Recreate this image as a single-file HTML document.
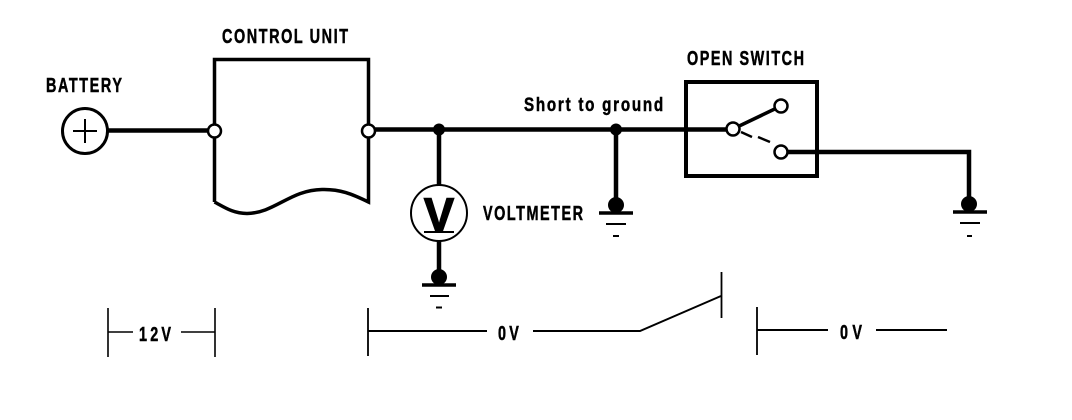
<!DOCTYPE html>
<html>
<head>
<meta charset="utf-8">
<style>
html,body{margin:0;padding:0;background:#fff;width:1072px;height:420px;overflow:hidden}
svg{display:block}
text{font-family:"Liberation Sans",sans-serif;font-weight:bold;fill:#000;stroke:#000;stroke-width:.5px}
</style>
</head>
<body>
<svg width="1072" height="420" viewBox="0 0 1072 420" xmlns="http://www.w3.org/2000/svg">
<rect width="1072" height="420" fill="#fff"/>
<g fill="none" stroke="#000" stroke-linecap="butt">
  <!-- Control unit -->
  <path d="M214.5 202 V59.5 H368.5 V202 C352 194 340 189 322 189.500 C290 190 275 213 247 213.500 C233 213.500 224 207 214.500 202" stroke-width="3.500" stroke-linejoin="miter"/>
  <!-- Main wires -->
  <path d="M108 130.500 H214" stroke-width="4.500"/>
  <path d="M369 129.500 H733" stroke-width="4.500"/>
  <path d="M439 130 V190" stroke-width="4.500"/>
  <path d="M439 240 V277" stroke-width="4.500"/>
  <path d="M616 130 V205" stroke-width="4.500"/>
  <path d="M781 152 H969 V203" stroke-width="4.500"/>
  <!-- Switch box -->
  <rect x="686" y="82" width="131" height="94" stroke-width="4"/>
  <path d="M733 129 L781 106" stroke-width="3.500"/>
  <path d="M741 132 L752 137 M758 137 L770 142" stroke-width="2.500"/>
  <!-- Battery -->
  <circle cx="85" cy="131" r="22.500" stroke-width="3"/>
  <path d="M73 131 H97 M85 119 V143" stroke-width="2"/>
  <!-- Voltmeter -->
  <circle cx="439" cy="213" r="28" fill="#fff" stroke-width="2"/>
  <path d="M424 232 H454" stroke-width="2"/>
  <!-- Ground bars -->
  <path d="M422 285 H456" stroke-width="3.500"/>
  <path d="M430 296 H449 M436 307.500 H442" stroke-width="2"/>
  <path d="M599 213 H633" stroke-width="3.500"/>
  <path d="M606 224 H626 M613 236 H619" stroke-width="2"/>
  <path d="M953 212 H987" stroke-width="3.500"/>
  <path d="M960 223 H980 M967 236 H972" stroke-width="2"/>
  <!-- Voltage dimension lines -->
  <path d="M108 308 V357 M215 308 V357 M108 332 H133 M181 332 H215" stroke-width="1.600"/>
  <path d="M368 308 V356 M721.500 272 V318 M757 307 V355" stroke-width="1.800"/>
  <path d="M368 331 H487 M533 331 H640 L721 296" stroke-width="2"/>
  <path d="M757 330 H828 M876 330 H947" stroke-width="2"/>
</g>
<g fill="#000">
  <circle cx="439" cy="129.500" r="6"/>
  <circle cx="616" cy="129.500" r="6"/>
  <circle cx="439" cy="277" r="8"/>
  <circle cx="616" cy="205" r="8"/>
  <circle cx="969" cy="204" r="8"/>
</g>
<g fill="#fff" stroke="#000" stroke-width="2.500">
  <circle cx="214.500" cy="131" r="6.500"/>
  <circle cx="368.500" cy="131" r="6.500"/>
  <circle cx="733" cy="129" r="6.500"/>
  <circle cx="781" cy="106" r="6.500"/>
  <circle cx="781" cy="152" r="6.500"/>
</g>
<text transform="translate(46 92) scale(.72 1)" font-size="20" textLength="105.500" lengthAdjust="spacing">BATTERY</text>
<text transform="translate(222 43) scale(.72 1)" font-size="20" textLength="175" lengthAdjust="spacing">CONTROL UNIT</text>
<text transform="translate(687 65) scale(.72 1)" font-size="20" textLength="162.500" lengthAdjust="spacing">OPEN SWITCH</text>
<text transform="translate(483 220) scale(.72 1)" font-size="20" textLength="139" lengthAdjust="spacing">VOLTMETER</text>
<text transform="translate(524 111) scale(.8 1)" font-size="19" textLength="174" lengthAdjust="spacing">Short to ground</text>
<text x="424" y="231" font-size="47" textLength="30" lengthAdjust="spacingAndGlyphs" style="stroke-width:1.500px">V</text>
<text transform="translate(139 341) scale(.72 1)" font-size="20" textLength="44.500" lengthAdjust="spacing">12V</text>
<text transform="translate(498 340) scale(.72 1)" font-size="20" textLength="29" lengthAdjust="spacing">0V</text>
<text transform="translate(840 339) scale(.72 1)" font-size="20" textLength="30.500" lengthAdjust="spacing">0V</text>
</svg>
</body>
</html>
